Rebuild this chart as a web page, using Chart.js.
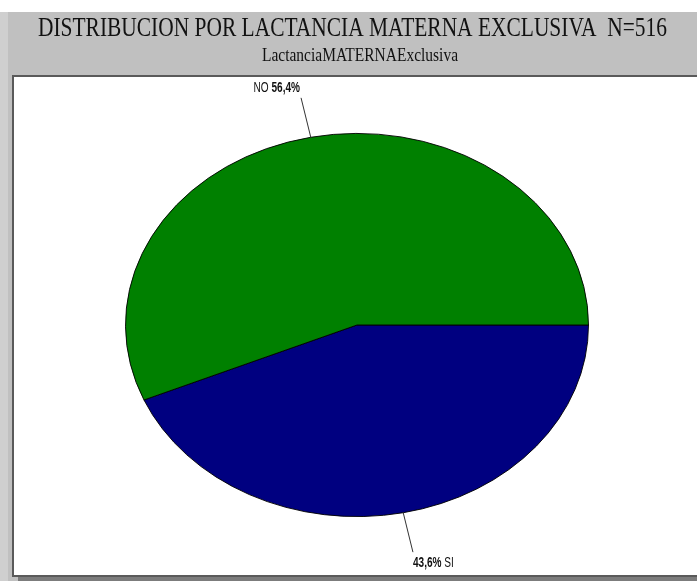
<!DOCTYPE html>
<html>
<head>
<meta charset="utf-8">
<style>
  html, body { margin: 0; padding: 0; background: #ffffff; }
  canvas { display: block; }
</style>
<script src="https://cdn.jsdelivr.net/npm/chart.js@4.4.1/dist/chart.umd.min.js"></script>
</head>
<body>
<canvas id="chart" width="697" height="581"></canvas>
<script>
// Data
const categories = ['SI', 'NO'];
const percentages = [43.6, 56.4];
const sliceColors = ['#000080', '#008000'];
const titleText = 'DISTRIBUCION POR LACTANCIA MATERNA EXCLUSIVA  N=516';
const subtitleText = 'LactanciaMATERNAExclusiva';

// Vertical squash of the pie so it is drawn as an ellipse
const ELLIPSE_RATIO = 192 / 232;

function fmtPct(v) {
  return v.toFixed(1).replace('.', ',') + '%';
}

// Gray frame, header band and the white plot box
const framePlugin = {
  id: 'frame',
  beforeDraw(chart) {
    const ctx = chart.ctx;
    const W = chart.width, H = chart.height;
    ctx.save();
    ctx.fillStyle = '#ffffff';
    ctx.fillRect(0, 0, W, H);
    ctx.fillStyle = '#cfcfcf';
    ctx.fillRect(0, 12, 8, H - 12);
    ctx.fillStyle = '#c0c0c0';
    ctx.fillRect(8, 12, W - 8, H - 12);
    // shadow under the box
    ctx.fillStyle = '#7c7c7c';
    ctx.fillRect(18, 577, W - 18, H - 577);
    // plot box
    ctx.fillStyle = '#ffffff';
    ctx.fillRect(12, 75, W + 10, 502);
    ctx.strokeStyle = '#5a5a5a';
    ctx.lineWidth = 2;
    ctx.strokeRect(13, 76, W + 10, 500);
    // header texts
    ctx.fillStyle = '#111111';
    ctx.textAlign = 'center';
    ctx.textBaseline = 'alphabetic';
    ctx.font = '28px "Liberation Serif", "DejaVu Serif", serif';
    ctx.fillText(titleText, 352.5, 36, 629);
    ctx.font = '19px "Liberation Serif", "DejaVu Serif", serif';
    ctx.fillText(subtitleText, 360, 61, 196);
    ctx.restore();
  }
};

// Draw a label made of regular and bold runs, horizontally condensed
function drawRuns(ctx, runs, x, y, align) {
  const sx = 0.72;
  const size = 14;
  const fam = '"Liberation Sans", Arial, sans-serif';
  let total = 0;
  runs.forEach(r => {
    ctx.font = (r.bold ? 'bold ' : '') + size + 'px ' + fam;
    r.w = ctx.measureText(r.text).width;
    total += r.w;
  });
  ctx.save();
  ctx.translate(x, y);
  ctx.scale(sx, 1);
  let cx = align === 'right' ? -total : 0;
  ctx.textAlign = 'left';
  ctx.textBaseline = 'alphabetic';
  ctx.fillStyle = '#111111';
  runs.forEach(r => {
    ctx.font = (r.bold ? 'bold ' : '') + size + 'px ' + fam;
    ctx.fillText(r.text, cx, 0);
    cx += r.w;
  });
  ctx.restore();
}

const ellipsePlugin = {
  id: 'ellipse',
  beforeDatasetsDraw(chart) {
    const arc = chart.getDatasetMeta(0).data[0];
    const ctx = chart.ctx;
    ctx.save();
    ctx.translate(arc.x, arc.y);
    ctx.scale(1, ELLIPSE_RATIO);
    ctx.translate(-arc.x, -arc.y);
  },
  afterDatasetsDraw(chart) {
    const ctx = chart.ctx;
    ctx.restore();
    // leader lines and value labels
    const meta = chart.getDatasetMeta(0);
    const values = chart.data.datasets[0].data;
    meta.data.forEach((arc, i) => {
      const mid = (arc.startAngle + arc.endAngle) / 2;
      const r = arc.outerRadius;
      const c = Math.cos(mid), s = Math.sin(mid);
      const x0 = arc.x + r * c, y0 = arc.y + r * s * ELLIPSE_RATIO;
      const x1 = arc.x + 1.21 * r * c, y1 = arc.y + 1.21 * r * s * ELLIPSE_RATIO;
      ctx.save();
      ctx.strokeStyle = '#333333';
      ctx.lineWidth = 1;
      ctx.beginPath();
      ctx.moveTo(x0, y0);
      ctx.lineTo(x1, y1);
      ctx.stroke();
      ctx.restore();
      const name = chart.data.labels[i];
      const val = fmtPct(values[i]);
      const left = c < 0;
      const runs = left
        ? [{ text: name + ' ', bold: false }, { text: val, bold: true }]
        : [{ text: val, bold: true }, { text: ' ' + name, bold: false }];
      const ty = s < 0 ? y1 - 6 : y1 + 15;
      drawRuns(ctx, runs, left ? x1 - 1 : x1, ty, left ? 'right' : 'left');
    });
  }
};

new Chart(document.getElementById('chart'), {
  type: 'pie',
  data: {
    labels: categories,
    datasets: [{
      data: percentages,
      backgroundColor: sliceColors,
      borderColor: '#000000',
      borderWidth: 1,
      hoverOffset: 0
    }]
  },
  options: {
    responsive: false,
    animation: false,
    rotation: 90,
    layout: { padding: { left: 125, right: 108, top: 93, bottom: 24 } },
    plugins: {
      legend: { display: false },
      tooltip: { enabled: false },
      title: { display: false }
    },
    events: []
  },
  plugins: [framePlugin, ellipsePlugin]
});
</script>
</body>
</html>
